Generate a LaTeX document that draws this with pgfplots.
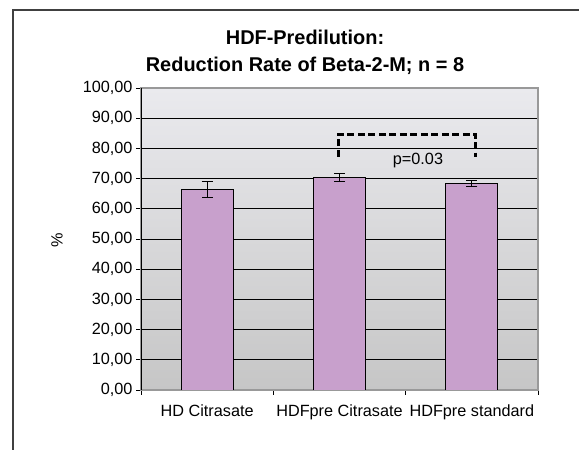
\documentclass[border=0pt]{standalone}
\usepackage{pgfplots}
\pgfplotsset{compat=1.18}
\usepackage{fontspec}
\setmainfont{Liberation Sans}
\definecolor{barfill}{RGB}{200,160,204}
\definecolor{bgtop}{RGB}{234,234,238}
\definecolor{bgbot}{RGB}{198,198,198}
\definecolor{framegray}{RGB}{64,64,64}
\newcommand{\tickfont}{\fontsize{16.3}{18}\selectfont}

\begin{document}
\begin{tikzpicture}
\useasboundingbox (0,0) rectangle (579bp,450bp);
\clip (0,0) rectangle (579bp,450bp);
\fill[white] (0,0) rectangle (579bp,450bp);
% chart frame, cut off at right and bottom
\draw[framegray, line width=2bp] (13bp,-10bp) -- (13bp,440bp) -- (620bp,440bp);

\node[anchor=base, font=\bfseries\fontsize{20}{24}\selectfont] at (305bp,405bp) {HDF-Predilution:};
\node[anchor=base, font=\bfseries\fontsize{20}{24}\selectfont] at (305bp,378.5bp) {Reduction Rate of Beta-2-M; n = 8};
\node[rotate=90, font=\tickfont] at (57bp,210bp) {\%};

\begin{axis}[
  at={(141bp,60bp)}, anchor=south west,
  scale only axis, width=397bp, height=302bp,
  ybar, bar width=52bp,
  xmin=-0.5, xmax=2.5, ymin=0, ymax=100,
  ytick={0,10,...,100},
  xtick={0,1,2},
  xticklabels={HD Citrasate, HDFpre Citrasate, HDFpre standard},
  major x tick style={draw=none},
  minor xtick={-0.5,0.5,1.5,2.5},
  xtick pos=bottom, ytick pos=left,
  tick align=outside,
  major tick length=5bp, minor tick length=5bp,
  tick style={black, line width=0.8bp},
  ymajorgrids, grid style={black, line width=0.7bp},
  axis line style={draw=black!40, line width=1.4bp},
  axis background/.style={top color=bgtop, bottom color=bgbot},
  ticklabel style={font=\tickfont},
  x tick label style={yshift=-6bp},
  y tick label style={/pgf/number format/.cd, fixed, fixed zerofill, precision=2, use comma, assume math mode=true},
]
\addplot[fill=barfill, draw=black, line width=0.8bp,
  error bars/.cd, y dir=both, y explicit,
  error bar style={black, line width=0.8bp},
  error mark options={rotate=90, mark size=5.5bp, black, line width=0.8bp}]
  coordinates {(0,66.4) +- (0,2.55) (1,70.4) +- (0,1.4) (2,68.4) +- (0,1.05)};

\draw[black, line width=0.9bp] (rel axis cs:0,1) -- (rel axis cs:0,0) -- (rel axis cs:1,0);
\draw[black, line width=2.8bp, dash pattern=on 7bp off 3.5bp]
  (axis cs:0.99,77.3) -- (axis cs:0.99,84.7) -- (axis cs:2.03,84.7) -- (axis cs:2.03,77.3);
\node[font=\tickfont] at (axis cs:1.593,75.9) {p=0.03};
\end{axis}
\end{tikzpicture}
\end{document}
